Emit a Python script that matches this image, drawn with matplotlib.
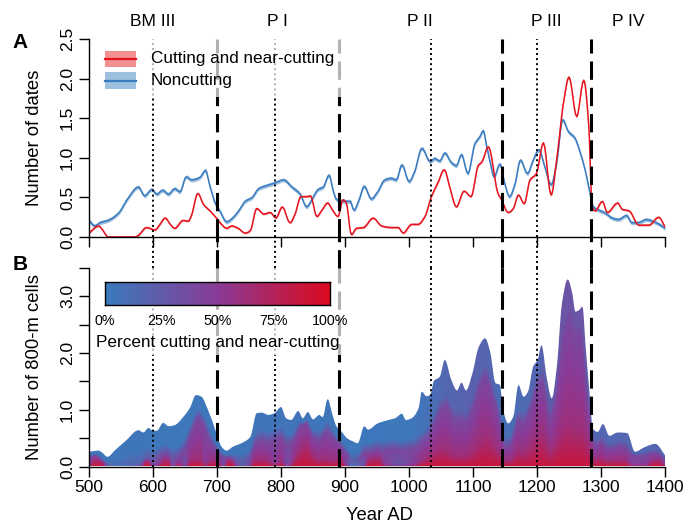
import numpy as np
import matplotlib
matplotlib.use("Agg")
import matplotlib.pyplot as plt
from matplotlib.colors import LinearSegmentedColormap
from matplotlib.patches import Rectangle, Polygon
from matplotlib.lines import Line2D
from matplotlib.transforms import blended_transform_factory

plt.rcParams['font.family'] = ['Liberation Sans', 'DejaVu Sans']

# ---------------- data ----------------
# Panel A: number of dates (noncutting, blue)
blue_years = [500, 509, 517, 530, 546, 561, 577, 587, 598, 606, 615, 624, 634, 642, 652, 660, 673, 682, 689,
              697, 705, 715, 723, 733, 744, 755, 765, 778, 790, 804, 817, 830, 840, 848, 858, 866, 875, 882,
              887, 900, 908, 914, 922, 930, 941, 951, 962, 972, 980, 989, 1000, 1009, 1020, 1033, 1040, 1048,
              1056, 1066, 1074, 1082, 1092, 1103, 1111, 1116, 1121, 1126, 1133, 1142, 1150, 1157, 1166, 1174,
              1185, 1194, 1203, 1212, 1222, 1231, 1240, 1249, 1259, 1267, 1275, 1283, 1288, 1296, 1307, 1317,
              1327, 1340, 1348, 1358, 1371, 1380, 1391, 1400]
blue_vals = [0.21, 0.14, 0.18, 0.21, 0.30, 0.49, 0.63, 0.52, 0.60, 0.54, 0.59, 0.54, 0.61, 0.57, 0.76, 0.72, 0.75,
             0.84, 0.64, 0.43, 0.32, 0.19, 0.23, 0.32, 0.45, 0.50, 0.61, 0.65, 0.68, 0.72, 0.63, 0.54, 0.38,
             0.47, 0.60, 0.63, 0.78, 0.57, 0.47, 0.45, 0.45, 0.34, 0.47, 0.64, 0.48, 0.57, 0.72, 0.74, 0.72,
             0.91, 0.70, 0.83, 1.12, 0.95, 0.99, 0.96, 1.06, 0.94, 0.90, 1.04, 0.80, 1.18, 1.27, 1.34, 1.16,
             0.97, 0.76, 0.92, 0.66, 0.51, 0.68, 0.97, 0.80, 0.97, 1.10, 0.89, 0.66, 0.95, 1.48, 1.33, 1.25,
             1.08, 0.85, 0.55, 0.38, 0.34, 0.30, 0.24, 0.22, 0.27, 0.18, 0.18, 0.22, 0.20, 0.16, 0.11]

# Panel A: number of dates (cutting and near-cutting, red)
red_years = [500, 515, 522, 530, 572, 577, 590, 603, 611, 619, 627, 634, 647, 655, 660, 670, 679, 689, 699, 707,
             715, 723, 733, 744, 752, 762, 773, 783, 792, 802, 814, 822, 831, 840, 846, 856, 864, 873, 879, 889,
             897, 902, 910, 918, 929, 944, 957, 973, 983, 991, 1004, 1014, 1025, 1035, 1045, 1055, 1064, 1074,
             1086, 1097, 1108, 1114, 1124, 1139, 1144, 1155, 1163, 1171, 1180, 1189, 1199, 1210, 1222, 1231,
             1242, 1250, 1262, 1273, 1281, 1286, 1291, 1302, 1310, 1326, 1333, 1344, 1359, 1375, 1390, 1400]
red_vals = [0.05, 0.14, 0.08, 0.0, 0.0, 0.02, 0.12, 0.09, 0.16, 0.24, 0.16, 0.11, 0.21, 0.20, 0.27, 0.55, 0.41,
            0.33, 0.24, 0.16, 0.11, 0.14, 0.11, 0.05, 0.08, 0.36, 0.29, 0.31, 0.24, 0.38, 0.18, 0.29, 0.51,
            0.51, 0.52, 0.26, 0.34, 0.43, 0.36, 0.26, 0.47, 0.43, 0.03, 0.11, 0.12, 0.24, 0.14, 0.12, 0.12,
            0.05, 0.16, 0.16, 0.26, 0.51, 0.68, 0.85, 0.62, 0.38, 0.58, 0.51, 0.90, 0.95, 1.14, 0.55, 0.48,
            0.31, 0.36, 0.53, 0.42, 0.72, 0.80, 1.19, 0.53, 0.99, 1.73, 2.02, 1.52, 1.98, 1.39, 0.38, 0.33,
            0.45, 0.31, 0.43, 0.35, 0.33, 0.15, 0.15, 0.25, 0.13]

# Panel B: number of 800-m cells (envelope)
cells_years = [500, 515, 520, 529, 540, 559, 577, 585, 593, 598, 606, 616, 624, 634, 647, 658, 667, 676, 684, 692,
               699, 707, 715, 725, 738, 752, 762, 770, 780, 790, 800, 808, 816, 827, 834, 842, 850, 860, 865, 873,
               880, 887, 895, 903, 913, 920, 930, 936, 951, 968, 978, 989, 995, 1004, 1015, 1020, 1027, 1033,
               1039, 1048, 1056, 1066, 1075, 1082, 1089, 1099, 1109, 1119, 1127, 1135, 1142, 1147, 1155, 1163,
               1171, 1179, 1186, 1194, 1201, 1207, 1215, 1223, 1231, 1239, 1248, 1255, 1260, 1266, 1271, 1276,
               1283, 1287, 1295, 1303, 1313, 1326, 1341, 1353, 1368, 1385, 1400]
cells_total = [0.26, 0.28, 0.25, 0.17, 0.28, 0.47, 0.64, 0.60, 0.68, 0.64, 0.63, 0.77, 0.71, 0.73, 0.87, 1.04,
               1.26, 1.23, 1.05, 0.82, 0.59, 0.35, 0.28, 0.35, 0.41, 0.52, 0.94, 0.95, 0.91, 0.94, 1.05, 0.85,
               0.82, 0.98, 0.85, 0.96, 0.83, 0.91, 0.87, 1.19, 0.93, 0.70, 0.61, 0.50, 0.44, 0.41, 0.71, 0.65,
               0.76, 0.82, 0.85, 0.93, 0.82, 0.85, 1.03, 1.32, 1.24, 1.26, 1.51, 1.58, 1.88, 1.53, 1.34, 1.48,
               1.34, 1.64, 2.11, 2.26, 2.01, 1.47, 1.44, 1.00, 0.76, 0.88, 1.44, 1.23, 1.32, 1.76, 1.88, 2.14,
               1.58, 1.20, 1.76, 2.88, 3.30, 3.06, 2.73, 2.76, 2.82, 2.11, 1.17, 0.67, 0.61, 0.75, 0.54, 0.60,
               0.59, 0.26, 0.34, 0.40, 0.20]

# Panel B: inner layers (cells with a high share of cutting dates)
layer_years = list(range(500, 1401, 10))
purple_layer = [0.15, 0.18, 0.10, 0.03, 0.03, 0.03, 0.05, 0.05, 0.06, 0.12, 0.10, 0.15, 0.20, 0.12, 0.15, 0.30,
                0.60, 0.85, 0.70, 0.40, 0.25, 0.15, 0.15, 0.10, 0.08, 0.12, 0.40, 0.45, 0.40, 0.45, 0.50, 0.35,
                0.45, 0.70, 0.75, 0.50, 0.45, 0.60, 0.50, 0.40, 0.25, 0.08, 0.10, 0.22, 0.25, 0.28, 0.25, 0.28,
                0.28, 0.25, 0.28, 0.30, 0.40, 0.50, 0.75, 1.00, 1.05, 0.80, 0.80, 0.75, 1.00, 1.40, 1.60, 1.30,
                0.90, 0.30, 0.40, 0.80, 0.75, 1.00, 1.40, 1.50, 0.80, 1.20, 2.20, 2.60, 2.30, 2.30, 1.10, 0.35,
                0.40, 0.30, 0.30, 0.35, 0.30, 0.18, 0.18, 0.18, 0.22, 0.22, 0.12]
red_layer = [0.04, 0.12, 0.08, 0.01, 0.01, 0.01, 0.01, 0.02, 0.03, 0.10, 0.04, 0.06, 0.12, 0.04, 0.07, 0.04,
             0.10, 0.13, 0.06, 0.08, 0.09, 0.04, 0.11, 0.04, 0.02, 0.04, 0.10, 0.12, 0.08, 0.06, 0.08, 0.04,
             0.08, 0.30, 0.40, 0.18, 0.10, 0.12, 0.08, 0.12, 0.06, 0.01, 0.02, 0.04, 0.12, 0.15, 0.06, 0.05,
             0.04, 0.04, 0.05, 0.06, 0.08, 0.15, 0.25, 0.32, 0.28, 0.18, 0.18, 0.18, 0.28, 0.42, 0.55, 0.42,
             0.25, 0.08, 0.10, 0.25, 0.22, 0.35, 0.50, 0.55, 0.25, 0.40, 0.65, 0.75, 0.65, 0.65, 0.40, 0.10,
             0.14, 0.08, 0.10, 0.10, 0.08, 0.05, 0.05, 0.05, 0.08, 0.10, 0.05]
# share of cutting at the top of the envelope
pct_years = [500, 600, 700, 800, 900, 1000, 1030, 1060, 1100, 1130, 1150, 1200, 1240, 1270, 1290, 1400]
top_pct = [0.04, 0.03, 0.03, 0.05, 0.03, 0.02, 0.08, 0.16, 0.20, 0.16, 0.08, 0.16, 0.30, 0.30, 0.16, 0.16]

period_names = ['BM III', 'P I', 'P II', 'P III', 'P IV']
period_mid = [600, 795, 1017.5, 1215, 1342.5]
period_bounds = [700, 890, 1145, 1285]
subperiod_bounds = [600, 790, 1035, 1200]
cbar_labels = ['0%', '25%', '50%', '75%', '100%']


def pchip(x, y, n=6):
    """Shape-preserving smooth curve through the given points (drawing only)."""
    x = np.asarray(x, float)
    y = np.asarray(y, float)
    h = np.diff(x)
    d = np.diff(y) / h
    m = np.zeros_like(y)
    m[0], m[-1] = d[0], d[-1]
    for k in range(1, len(x) - 1):
        if d[k - 1] * d[k] > 0:
            w1 = 2 * h[k] + h[k - 1]
            w2 = h[k] + 2 * h[k - 1]
            m[k] = (w1 + w2) / (w1 / d[k - 1] + w2 / d[k])
    xs, ys = [], []
    for k in range(len(x) - 1):
        t = np.linspace(0, 1, n, endpoint=False)
        h00 = 2 * t**3 - 3 * t**2 + 1
        h10 = t**3 - 2 * t**2 + t
        h01 = -2 * t**3 + 3 * t**2
        h11 = t**3 - t**2
        xs.append(x[k] + t * h[k])
        ys.append(h00 * y[k] + h10 * h[k] * m[k] + h01 * y[k + 1] + h11 * h[k] * m[k + 1])
    xs.append([x[-1]])
    ys.append([y[-1]])
    return np.concatenate(xs), np.concatenate(ys)


# ---------------- style ----------------
BLUE = '#3a7bbf'
BLUE_BAND = '#9dc0e0'
RED = '#e5141e'
RED_BAND = '#f29092'
cmap = LinearSegmentedColormap.from_list('cut', ['#3a7bbd', '#8a3b97', '#dc0a1f'])

W_PX, H_PX = 685, 526
fig = plt.figure(figsize=(W_PX / 100, H_PX / 100), dpi=100)
L, W = 89 / W_PX, 576 / W_PX
ax1 = fig.add_axes([L, 1 - 237 / H_PX, W, 198 / H_PX])
ax2 = fig.add_axes([L, 1 - 466.5 / H_PX, W, 198.5 / H_PX])

for ax in (ax1, ax2):
    for s in ('top', 'right'):
        ax.spines[s].set_visible(False)
    for s in ('left', 'bottom'):
        ax.spines[s].set_linewidth(1.0)
    ax.tick_params(direction='out', length=7, width=1.0, labelsize=12.5, pad=3)
    ax.set_xlim(500, 1400)
    ax.set_xticks(range(500, 1401, 100))

# ---- Panel A ----
bx, by = pchip(blue_years, blue_vals)
rx, ry = pchip(red_years, red_vals)
ry = np.maximum(ry, 0)
ax1.fill_between(bx, by - 0.025, by + 0.025, color=BLUE_BAND, lw=0, zorder=1)
ax1.plot(bx, by, color=BLUE, lw=1.1, zorder=2)
ax1.fill_between(rx, np.maximum(ry - 0.012, 0), ry + 0.012, color=RED_BAND, lw=0, zorder=1.5)
ax1.plot(rx, ry, color=RED, lw=1.1, zorder=2.5)
ax1.set_ylim(0, 2.5)
ax1.set_yticks([0, 0.5, 1.0, 1.5, 2.0, 2.5])
ax1.set_yticklabels(['0.0', '0.5', '1.0', '1.5', '2.0', '2.5'])
ax1.tick_params(axis='x', labelbottom=False)
ax1.set_ylabel('Number of dates', fontsize=13.3)

# ---- Panel B ----
cx, cyv = pchip(cells_years, cells_total)
cyv = np.maximum(cyv, 0)
xs = np.linspace(500, 1400, 901)
ys = np.linspace(0, 3.5, 701)
T = np.interp(xs, cx, cyv)
P = np.interp(xs, layer_years, purple_layer)
R = np.interp(xs, layer_years, red_layer)
TOP = np.interp(xs, pct_years, top_pct)
R = np.minimum(R, T)
P = np.clip(P, R, T)
Q = P + np.minimum(0.2, 0.4 * (T - P))
wr = np.clip(R / 0.08, 0, 1)
wp = np.clip(P / 0.15, 0, 1)
F0 = TOP + (0.88 - TOP) * wr
FR = TOP + (0.62 - TOP) * wr
FP = TOP + (0.40 - TOP) * wp
Y = ys[:, None]
eps = 1e-6
f1 = F0 + (FR - F0) * Y / (R + eps)
f2 = FR + (FP - FR) * (Y - R) / (P - R + eps)
f3 = FP + (TOP - FP) * (Y - P) / (Q - P + eps)
F = np.where(Y < R, f1, np.where(Y < P, f2, np.where(Y < Q, f3, TOP)))
F = np.clip(F, 0, 1)
rgba = cmap(F)
im = ax2.imshow(rgba, origin='lower', extent=[500, 1400, 0, 3.5], aspect='auto',
                interpolation='bilinear', zorder=1)
verts = np.column_stack([np.r_[cx, cx[::-1]], np.r_[cyv, np.zeros_like(cyv)]])
poly = Polygon(verts, closed=True, transform=ax2.transData, fc='none', ec='none')
ax2.add_patch(poly)
im.set_clip_path(poly)
ax2.set_xlim(500, 1400)
ax2.set_ylim(0, 3.5)
ax2.set_yticks(np.arange(0, 3.51, 0.5))
ax2.set_yticklabels(['0.0', '', '1.0', '', '2.0', '', '3.0', ''])
ax2.set_ylabel('Number of 800-m cells', fontsize=13.3)
ax2.set_xlabel('Year AD', fontsize=13.3)

for ax in (ax1, ax2):
    for lab in ax.get_yticklabels():
        lab.set_rotation(90)
        lab.set_va('center')
    ax.yaxis.label.set_va('center')
    ax.yaxis.set_label_coords((34.5 - 89) / 576, 0.5)
ax2.xaxis.label.set_va('center')
ax2.xaxis.set_label_coords((380 - 89) / 576, (466.5 - 515.5) / 198.5)

# ---- vertical period lines ----
def xfig(yr):
    return L + (yr - 500) / 900 * W

y_gap_top = 1 - 237 / H_PX
y_gap_bot = 1 - 268 / H_PX
for yr in period_bounds:
    for ax in (ax1, ax2):
        ax.axvline(yr, color='black', lw=2.2, dashes=(6, 2.6), dash_capstyle='butt', zorder=3)
    fig.add_artist(Line2D([xfig(yr)] * 2, [y_gap_bot, y_gap_top], color='black', lw=2.2,
                          dashes=(6, 2.6), dash_capstyle='butt'))
for yr in subperiod_bounds:
    for ax in (ax1, ax2):
        ax.axvline(yr, color='black', lw=1.4, dashes=(1.0, 1.6), dash_capstyle='butt', zorder=3)
    fig.add_artist(Line2D([xfig(yr)] * 2, [y_gap_bot, y_gap_top], color='black', lw=1.4,
                          dashes=(1.0, 1.6), dash_capstyle='butt'))

# ---- period labels ----
btr = blended_transform_factory(ax1.transData, ax1.transAxes)
for name, mid in zip(period_names, period_mid):
    ax1.text(mid, (237 - 22) / 198, name, transform=btr, ha='center', va='center',
             fontsize=12.5, clip_on=False)

# ---- legend panel A ----
def ax1f(px, py):
    return ((px - 89) / 576, (237 - py) / 198)

x0, y0 = ax1f(95, 97)
ax1.add_patch(Rectangle((x0, y0), (345 - 95) / 576, 1 - y0, transform=ax1.transAxes,
                        fc='white', ec='none', alpha=0.7, zorder=4))
leg_items = [('Cutting and near-cutting', RED, RED_BAND, 51, 67),
             ('Noncutting', BLUE, BLUE_BAND, 72, 89)]
for label, lc, bc, ytop, ybot in leg_items:
    xa, ya = ax1f(105, ybot)
    ax1.add_patch(Rectangle((xa, ya), 31 / 576, (ybot - ytop) / 198, transform=ax1.transAxes,
                            fc=bc, ec='none', zorder=5))
    ym = ax1f(0, (ytop + ybot) / 2)[1]
    ax1.add_line(Line2D([ax1f(105, 0)[0], ax1f(136, 0)[0]], [ym, ym], transform=ax1.transAxes,
                        color=lc, lw=1.6, zorder=6))
    ax1.text(ax1f(151, 0)[0], ym, label, transform=ax1.transAxes, ha='left', va='center',
             fontsize=12.3, zorder=6)

# ---- colour bar panel B ----
def ax2f(px, py):
    return ((px - 89) / 576, (466.5 - py) / 198.5)

bx0, by0 = ax2f(95, 355)
ax2.add_patch(Rectangle((bx0, by0), (345 - 95) / 576, 1 - by0, transform=ax2.transAxes,
                        fc='white', ec='none', alpha=0.7, zorder=4))
cx0, cy0 = ax2f(105, 305)
cax = ax2.inset_axes([cx0, cy0, 225 / 576, 23 / 198.5])
cax.imshow(np.linspace(0, 1, 256)[None, :], cmap=cmap, aspect='auto', extent=[0, 1, 0, 1])
cax.set_xticks([])
cax.set_yticks([])
for s in cax.spines.values():
    s.set_linewidth(1.0)
for i, lab in enumerate(cbar_labels):
    px = 105 + i * 225 / 4
    ax2.text(ax2f(px, 0)[0], ax2f(0, 321)[1], lab, transform=ax2.transAxes, ha='center', va='center',
             fontsize=10.3, zorder=6)
ax2.text(ax2f(96, 0)[0], ax2f(0, 343)[1], 'Percent cutting and near-cutting', transform=ax2.transAxes,
         ha='left', va='center', fontsize=12.3, zorder=6)

# ---- panel letters ----
fig.text(20 / W_PX, 1 - 43 / H_PX, 'A', fontsize=15, fontweight='bold', ha='center', va='center')
fig.text(20 / W_PX, 1 - 265 / H_PX, 'B', fontsize=15, fontweight='bold', ha='center', va='center')

fig.savefig('out.png', dpi=100)
